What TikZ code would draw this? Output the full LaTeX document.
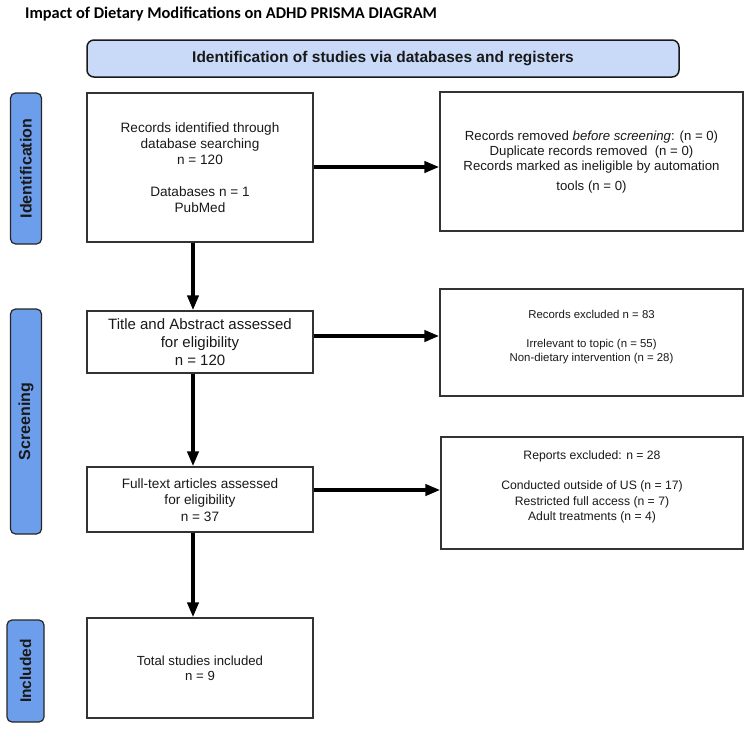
\documentclass[tikz,border=0pt]{standalone}
\usepackage{fontspec}
\setmainfont{Liberation Sans}
\newfontfamily\titlefont{Carlito}
\usetikzlibrary{arrows.meta}
\definecolor{bannerblue}{HTML}{C9DAF8}
\definecolor{sideblue}{HTML}{6D9EEB}
\definecolor{edgegray}{HTML}{333333}
\newcommand{\fs}[2]{\fontsize{#1}{#2}\selectfont}
\tikzset{
  box/.style={draw=edgegray, line width=1.2pt, fill=white, inner sep=0pt},
  txt/.style={align=center, inner sep=0pt, text=black!90},
  side/.style={draw=black!85, line width=1.2pt, fill=sideblue, rounded corners=5pt, inner sep=0pt},
  sidetxt/.style={rotate=90, font=\bfseries\fs{16}{19}, inner sep=0pt, text=black!90},
  arr/.style={line width=4pt, -{Triangle[length=15pt,width=11pt]}, black}
}
\begin{document}
\begin{tikzpicture}[x=1pt,y=-1pt]
\useasboundingbox (0,0) rectangle (750,729);
% title
\node[anchor=west, inner sep=0pt, font=\titlefont\bfseries\fs{16.4}{19}] (title) at (25,14) {Impact of Dietary Modifications on ADHD PRISMA DIAGRAM};
% banner
\node[draw=black!90, line width=1.5pt, fill=bannerblue, rounded corners=7pt, minimum width=592pt, minimum height=37pt, inner sep=0pt] (banner) at (383,58.5) {};
\node[txt, font=\bfseries\fs{15.5}{18}] (bannert) at (383,58.5) {Identification of studies via databases and registers};
% side labels
\node[side, minimum width=31pt, minimum height=151pt] (sid) at (26,168.5) {};
\node[sidetxt] (sidt) at (26,168.5) {Identification};
\node[side, minimum width=31pt, minimum height=225pt] (sscr) at (26,421.5) {};
\node[sidetxt] (sscrt) at (26,421.5) {Screening};
\node[side, minimum width=37pt, minimum height=102pt] (sinc) at (25.5,671) {};
\node[sidetxt, font=\bfseries\fs{15.5}{18}] (sinct) at (25.5,671) {Included};
% left boxes
\node[box, minimum width=226pt, minimum height=149pt] (b1) at (200,167.5) {};
\node[txt, font=\fs{13.6}{16}] (b1t) at (200,168) {Records identified through\\database searching\\n = 120\\[16pt]Databases n = 1\\PubMed};
\node[box, minimum width=226pt, minimum height=62pt] (b2) at (200,342) {};
\node[txt, font=\fs{15}{18.3}] (b2t) at (200,342.3) {Title and Abstract assessed\\for eligibility\\n = 120};
\node[box, minimum width=226pt, minimum height=65pt] (b3) at (200,499.5) {};
\node[txt, font=\fs{13.6}{16.7}] (b3t) at (200,500) {Full-text articles assessed\\for eligibility\\n = 37};
\node[box, minimum width=226pt, minimum height=100pt] (b4) at (200,668) {};
\node[txt, font=\fs{13.2}{15}] (b4t) at (200,668.5) {Total studies included\\n = 9};
% right boxes
\node[box, minimum width=303pt, minimum height=139pt] (r1) at (591.5,161.5) {};
\node[txt, font=\fs{13.2}{15}] (r1t) at (591.5,162) {Records removed \textit{before screening}: (n = 0)\\Duplicate records removed\ \ (n = 0)\\Records marked as ineligible by automation\\[5pt]tools (n = 0)};
\node[box, minimum width=303pt, minimum height=107pt] (r2) at (591.5,342.5) {};
\node[txt, font=\fs{11.4}{14.3}] (r2t) at (591.5,337) {Records excluded n = 83\\[14.3pt]Irrelevant to topic (n = 55)\\Non-dietary intervention (n = 28)};
\node[box, minimum width=302pt, minimum height=112pt] (r3) at (592,493) {};
\node[txt, font=\fs{12.2}{15.3}] (r3t) at (592,486.7) {Reports excluded: n = 28\\[15.3pt]Conducted outside of US (n = 17)\\Restricted full access (n = 7)\\Adult treatments (n = 4)};
% arrows
\draw[arr] ([yshift=0.5pt]b1.east) -- ([yshift=0.5pt]b1.east -| r1.west);
\draw[arr] ([yshift=6pt]b2.east) -- ([yshift=6pt]b2.east -| r2.west);
\draw[arr] ([yshift=9.5pt]b3.east) -- ([yshift=9.5pt]b3.east -| r3.west);
\draw[arr] ([xshift=-7pt]b1.south) -- ([xshift=-7pt]b1.south |- b2.north);
\draw[arr] ([xshift=-7pt]b2.south) -- ([xshift=-7pt]b2.south |- b3.north);
\draw[arr] ([xshift=-7pt]b3.south) -- ([xshift=-7pt]b3.south |- b4.north);
\end{tikzpicture}
\end{document}
